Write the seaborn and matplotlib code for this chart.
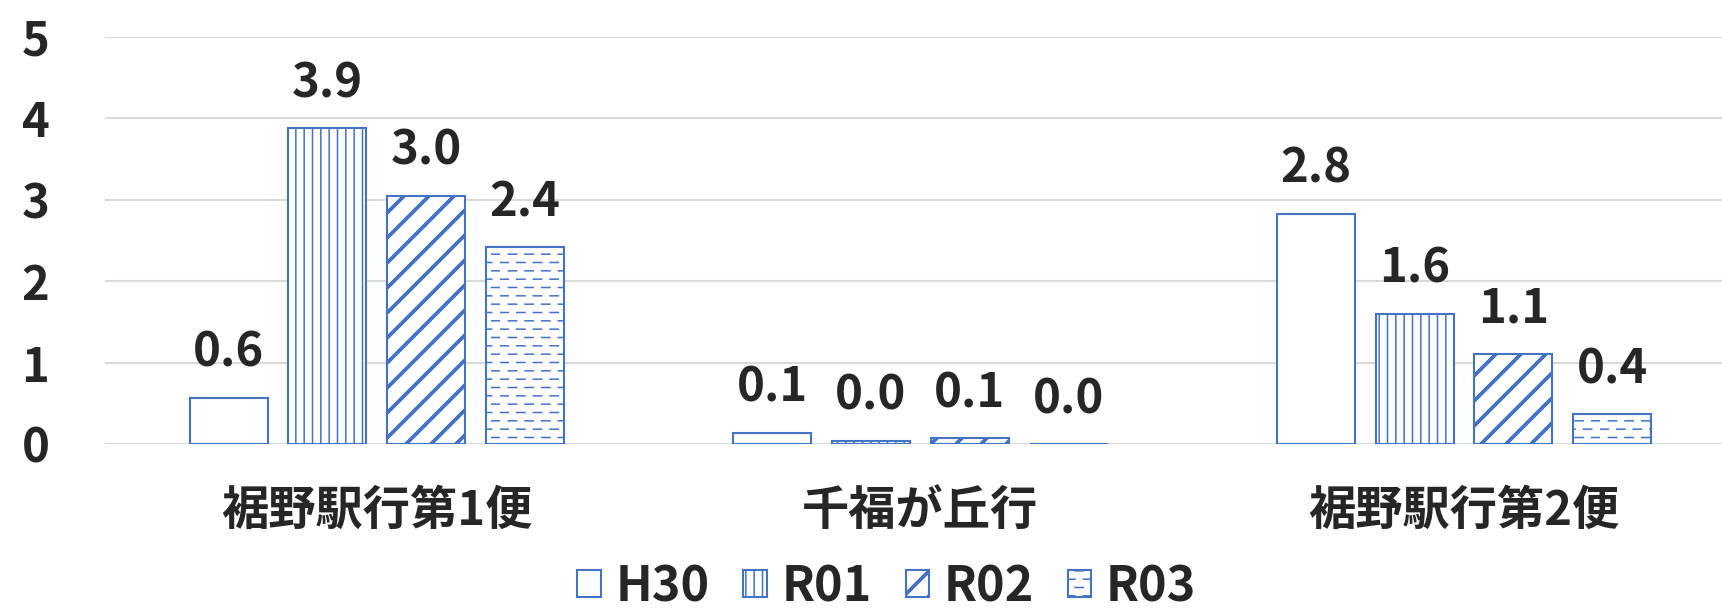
import warnings
import numpy as np
import pandas as pd
import matplotlib
matplotlib.use('Agg')
import matplotlib.pyplot as plt
import matplotlib.hatch as mhatch
from matplotlib.path import Path
import seaborn as sns

warnings.filterwarnings('ignore')

# data
routes = ['裾野駅行第1便', '千福が丘行', '裾野駅行第2便']
years = ['H30', 'R01', 'R02', 'R03']
h30 = [0.57, 0.14, 2.83]
r01 = [3.88, 0.04, 1.60]
r02 = [3.05, 0.07, 1.11]
r03 = [2.42, 0.0, 0.37]
yticks = [0, 1, 2, 3, 4, 5]

blue = '#4472C4'
hatches = ['', '||', 'w', '=']
fs = 34


# wide diagonal stripes, 8 per inch, each drawn as 4 close lines so it looks thick
class WideDiagonal(mhatch.HatchPatternBase):
    offsets = (-0.015, -0.005, 0.005, 0.015)

    def __init__(self, hatch, density):
        self.num_lines = int(hatch.count('w') * density * 4 / 3)
        self.num_vertices = (self.num_lines + 1) * 2 * len(self.offsets) if self.num_lines else 0

    def set_vertices_and_codes(self, vertices, codes):
        steps = np.linspace(-0.5, 0.5, self.num_lines + 1)
        n = (self.num_lines + 1) * 2
        for i, o in enumerate(self.offsets):
            v = vertices[i * n:(i + 1) * n]
            c = codes[i * n:(i + 1) * n]
            v[0::2, 0] = 0.0 + steps + o
            v[0::2, 1] = 0.0 - steps
            v[1::2, 0] = 1.0 + steps + o
            v[1::2, 1] = 1.0 - steps
            c[0::2] = Path.MOVETO
            c[1::2] = Path.LINETO


# dashed horizontal rows, alternating offset
class DashedRows(mhatch.HatchPatternBase):
    def __init__(self, hatch, density):
        self.rows = int(hatch.count('=') * density * 2)
        self.dashes = 6
        self.num_vertices = self.rows * self.dashes * 2

    def set_vertices_and_codes(self, vertices, codes):
        step = 1.0 / self.dashes
        k = 0
        for r in range(self.rows):
            y = (r + 0.5) / self.rows
            off = (r % 2) * step / 2
            for d in range(self.dashes):
                x0 = d * step + off
                vertices[k] = (x0, y)
                vertices[k + 1] = (x0 + step / 2, y)
                codes[k] = Path.MOVETO
                codes[k + 1] = Path.LINETO
                k += 2


mhatch._hatch_types.append(WideDiagonal)
mhatch._hatch_types.append(DashedRows)

df = pd.DataFrame({
    'route': routes * 4,
    'year': np.repeat(years, len(routes)),
    'value': h30 + r01 + r02 + r03,
})

sns.set_style('white')
plt.rcParams['font.family'] = ['Noto Sans CJK JP', 'DejaVu Sans']
plt.rcParams['font.weight'] = 'bold'
plt.rcParams['hatch.linewidth'] = 1.1

fig = plt.figure(figsize=(17.22, 6.13), dpi=100)
ax = fig.add_axes([0.061, 0.2757, 0.947, 0.664])

sns.barplot(data=df, x='route', y='value', hue='year',
            palette={y: 'white' for y in years}, width=0.727, gap=0.21,
            edgecolor=blue, linewidth=1.5, legend=False, ax=ax)

for cont, h in zip(ax.containers, hatches):
    for p in cont:
        p.set_hatch(h)
        p.set_edgecolor(blue)
    ax.bar_label(cont, fmt='%.1f', padding=15, fontsize=fs, fontweight='bold')

ax.set_ylim(0, 5)
ax.set_yticks(yticks)
ax.set_xlabel('')
ax.set_ylabel('')
ax.grid(axis='y', color='#D9D9D9', linewidth=1.5)
ax.set_axisbelow(True)
sns.despine(ax=ax, left=True, bottom=True)
ax.tick_params(axis='y', length=0, pad=40, labelsize=fs)
ax.tick_params(axis='x', length=0, pad=31, labelsize=fs)

fig.legend(ax.containers, years, loc='center', bbox_to_anchor=(0.515, 0.043),
           ncol=4, frameon=False, handlelength=0.48, handleheight=0.48,
           handletextpad=0.3, columnspacing=0.7,
           prop={'size': 35, 'weight': 'bold'})

fig.savefig('out.png', dpi=100)
